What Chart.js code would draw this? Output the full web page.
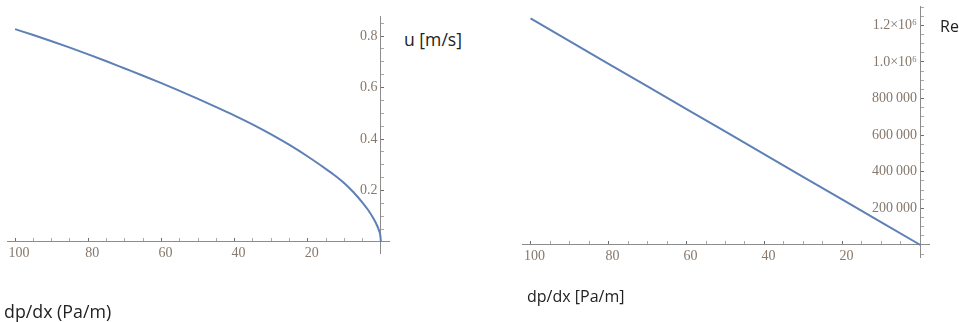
<!DOCTYPE html>
<html>
<head>
<meta charset="utf-8">
<script src="https://cdn.jsdelivr.net/npm/chart.js@4"></script>
<style>
  body { margin: 0; background: #fff; width: 959px; height: 322px; position: relative; overflow: hidden; }
  canvas { position: absolute; top: 0; }
  .lbl { position: absolute; font-family: "Open Sans", sans-serif; font-size: 16px; color: #222; white-space: nowrap; }
</style>
</head>
<body>
<canvas id="chartU" width="400" height="322" style="left:0"></canvas>
<canvas id="chartRe" width="479" height="322" style="left:480px"></canvas>
<div class="lbl" style="left:404px;top:27px;font-size:17.6px">u [m/s]</div>
<div class="lbl" style="left:4px;top:299px;font-size:17.8px">dp/dx (Pa/m)</div>
<div class="lbl" style="left:940px;top:15px">Re</div>
<div class="lbl" style="left:527px;top:285px">dp/dx [Pa/m]</div>
<script>
// valores
const dpdxU = [0, 0.2, 0.5, 1, 2, 3.5, 5, 7.5, 10, 12.5, 15, 20, 25, 30, 35, 40, 45, 50, 55, 60, 65, 70, 75, 80, 85, 90, 95, 100];
const velocidad = [0, 0.028, 0.043, 0.062, 0.09, 0.124, 0.152, 0.193, 0.228, 0.257, 0.283, 0.332, 0.377, 0.418, 0.456, 0.491, 0.524, 0.556, 0.587, 0.617, 0.646, 0.674, 0.702, 0.729, 0.755, 0.78, 0.804, 0.827];

const dpdxRe = [0, 10, 20, 30, 40, 50, 60, 70, 80, 90, 100];
const reynolds = [0, 124000, 248000, 371000, 495000, 619000, 743000, 867000, 990000, 1114000, 1238000];

const tickLabelsRe = ['200\u2009000', '400\u2009000', '600\u2009000', '800\u2009000', '1.0\u00d710\u2076', '1.2\u00d710\u2076'];

const lineColor = '#5e81b5';
const tickFont = {family: 'Liberation Serif', size: 14};
const tickText = '#86786c';

const sinPadding = (s) => {
    s.paddingTop = 0;
    s.paddingBottom = 0;
    s.paddingLeft = 0;
    s.paddingRight = 0;
};

// marcas cada "paso" entre desde y hasta (Chart.js reajusta el paso si no)
const marcas = (desde, hasta, paso) => (s) => {
    const t = [];
    for (let v = desde; v <= hasta + paso / 2; v += paso) {
        t.push({value: Math.round(v / paso) * paso});
    }
    s.ticks = t;
};

const xScale = () => ({
    type: 'linear',
    reverse: true,
    min: -2.2,
    max: 102.2,
    position: {y: 0},
    afterFit: sinPadding,
    afterBuildTicks: marcas(0, 100, 5),
    border: {display: true, color: '#8c8c8c', width: 1},
    grid: {
        drawOnChartArea: false,
        tickLength: -4,
        tickColor: (c) => (c.tick && c.tick.value % 20 === 0) ? '#6e6e6e' : '#a8a8a8'
    },
    ticks: {
        autoSkip: false,
        maxRotation: 0,
        padding: 7,
        labelOffset: 4,
        color: tickText,
        font: tickFont,
        callback: (v) => (v % 20 === 0 && v !== 0) ? String(v) : ''
    }
});

const chartU = new Chart(document.getElementById('chartU'), {
    type: 'line',
    data: {
        datasets: [{
            data: dpdxU.map((x, i) => ({x: x, y: velocidad[i]})),
            borderColor: lineColor,
            borderWidth: 2,
            pointRadius: 0,
            cubicInterpolationMode: 'monotone'
        }]
    },
    options: {
        responsive: false,
        animation: false,
        layout: {padding: {left: 7, right: 11, top: 16, bottom: 69}},
        plugins: {legend: {display: false}, tooltip: {enabled: false}},
        scales: {
            x: xScale(),
            y: {
                type: 'linear',
                min: -0.043,
                max: 0.878,
                position: {x: 0},
                afterFit: sinPadding,
                afterBuildTicks: marcas(0, 0.85, 0.05),
                border: {display: true, color: '#8c8c8c', width: 1},
                grid: {
                    drawOnChartArea: false,
                    tickLength: -4,
                    tickColor: (c) => (c.tick && Math.round(c.tick.value * 100) % 20 === 0) ? '#6e6e6e' : '#a8a8a8'
                },
                ticks: {
                    autoSkip: false,
                    color: tickText,
                    font: tickFont,
                    callback: (v) => {
                        const c = Math.round(v * 100);
                        return (c % 20 === 0 && c > 0) ? (c / 100).toFixed(1) + ' ' : '';
                    }
                }
            }
        }
    }
});

const chartRe = new Chart(document.getElementById('chartRe'), {
    type: 'line',
    data: {
        datasets: [{
            data: dpdxRe.map((x, i) => ({x: x, y: reynolds[i]})),
            borderColor: lineColor,
            borderWidth: 2,
            pointRadius: 0
        }]
    },
    options: {
        responsive: false,
        animation: false,
        layout: {padding: {left: 42, right: 30, top: 6, bottom: 65}},
        plugins: {legend: {display: false}, tooltip: {enabled: false}},
        scales: {
            x: xScale(),
            y: {
                type: 'linear',
                min: -65600,
                max: 1306000,
                position: {x: 0},
                afterFit: sinPadding,
                afterBuildTicks: marcas(-50000, 1300000, 50000),
                border: {display: true, color: '#8c8c8c', width: 1},
                grid: {
                    drawOnChartArea: false,
                    tickLength: -4,
                    tickColor: (c) => (c.tick && Math.round(c.tick.value / 1000) % 200 === 0) ? '#6e6e6e' : '#a8a8a8'
                },
                ticks: {
                    autoSkip: false,
                    color: tickText,
                    font: tickFont,
                    callback: (v) => {
                        const k = Math.round(v / 1000);
                        return (k > 0 && k % 200 === 0) ? tickLabelsRe[k / 200 - 1] + ' ' : '';
                    }
                }
            }
        }
    }
});
</script>
</body>
</html>
